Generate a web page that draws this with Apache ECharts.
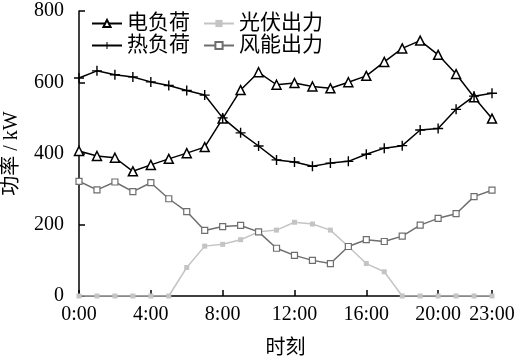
<!DOCTYPE html>
<html><head><meta charset="utf-8">
<script src="https://cdn.jsdelivr.net/npm/echarts@6/dist/echarts.min.js"></script>
<style>html,body{margin:0;padding:0;background:#fff}#c{width:523px;height:359px}</style>
</head><body><div id="c"></div>
<script>
const hours = ['0:00','1:00','2:00','3:00','4:00','5:00','6:00','7:00','8:00','9:00','10:00','11:00','12:00','13:00','14:00','15:00','16:00','17:00','18:00','19:00','20:00','21:00','22:00','23:00'];
const xTickLabels = ['0:00','4:00','8:00','12:00','16:00','20:00','23:00'];
const yTicks = [0,200,400,600,800];
const elecLoad = [407,393,388,350,368,385,401,418,498,578,628,593,598,588,583,600,618,657,695,717,677,623,558,498];
const heatLoad = [612,632,621,615,601,591,577,564,500,458,421,382,376,364,373,378,398,415,422,466,470,524,561,569];
const pvOut    = [0,0,0,0,0,0,80,140,145,158,180,185,207,202,185,139,91,68,0,0,0,0,0,0];
const windOut  = [322,298,320,293,318,273,237,184,195,198,180,134,114,100,91,139,158,153,168,199,218,231,279,297];

const serif = '"Liberation Serif","Noto Sans CJK SC",serif';
const cjk = '"Liberation Serif","Noto Sans CJK SC",sans-serif';
const plus = 'path://M4.3,0H5.7V4.3H10V5.7H5.7V10H4.3V5.7H0V4.3H4.3Z';
const showIdx = i => xTickLabels.indexOf(hours[i]) >= 0;

const chart = echarts.init(document.getElementById('c'));
chart.setOption({
  animation:false,
  backgroundColor:'#fff',
  grid:{left:79,right:31,top:11,bottom:63,containLabel:false,outerBoundsMode:'none'},
  legend:[
    {data:['电负荷','热负荷'],orient:'vertical',left:86,top:8,itemGap:1,itemWidth:30,itemHeight:9,
     textStyle:{fontFamily:cjk,fontSize:21,color:'#000'}},
    {data:['光伏出力','风能出力'],orient:'vertical',left:198,top:8,itemGap:1,itemWidth:30,itemHeight:9,
     textStyle:{fontFamily:cjk,fontSize:21,color:'#000'}}
  ],
  xAxis:{type:'category',data:hours,boundaryGap:false,
    name:'时刻',nameLocation:'middle',nameGap:43,
    nameTextStyle:{fontFamily:cjk,fontSize:20,color:'#000',verticalAlign:'top'},
    axisLine:{lineStyle:{color:'#000',width:1.5}},
    axisTick:{inside:true,length:6,interval:(i)=>showIdx(i),lineStyle:{color:'#000',width:1.5}},
    axisLabel:{interval:(i)=>showIdx(i),fontFamily:serif,fontSize:20,color:'#000',margin:9},
    splitLine:{show:false}},
  yAxis:{type:'value',min:0,max:800,interval:200,
    name:'功率 / kW',nameLocation:'middle',nameGap:57,nameRotate:90,
    nameTextStyle:{fontFamily:cjk,fontSize:20,color:'#000'},
    axisLine:{show:true,lineStyle:{color:'#000',width:1.5}},
    axisTick:{show:true,inside:true,length:6,lineStyle:{color:'#000',width:1.5}},
    axisLabel:{fontFamily:serif,fontSize:20,color:'#000',margin:15,
      formatter:v=>yTicks.indexOf(v)>=0?String(v):''},
    splitLine:{show:false}},
  series:[
    {name:'电负荷',type:'line',data:elecLoad,symbol:'triangle',symbolSize:9,
     lineStyle:{color:'#000',width:1.5},itemStyle:{color:'#fff',borderColor:'#000',borderWidth:1.5},color:'#000',z:4},
    {name:'光伏出力',type:'line',data:pvOut,symbol:'rect',symbolSize:5,
     lineStyle:{color:'#c4c4c4',width:1.5},itemStyle:{color:'#c4c4c4'},color:'#c4c4c4',z:2},
    {name:'热负荷',type:'line',data:heatLoad,symbol:plus,symbolSize:10,
     lineStyle:{color:'#000',width:1.5},itemStyle:{color:'#000'},color:'#000',z:4},
    {name:'风能出力',type:'line',data:windOut,symbol:'rect',symbolSize:6,
     lineStyle:{color:'#6e6e6e',width:1.5},itemStyle:{color:'#fff',borderColor:'#6e6e6e',borderWidth:1.2},color:'#6e6e6e',z:3}
  ]
});
</script></body></html>
